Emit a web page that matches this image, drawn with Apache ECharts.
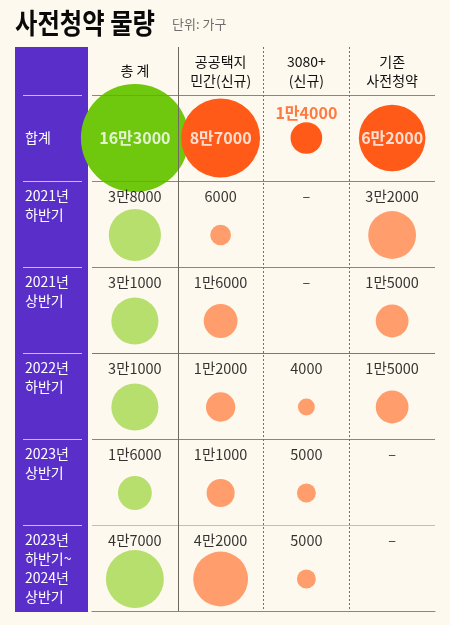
<!DOCTYPE html>
<html>
<head>
<meta charset="utf-8">
<script src="https://cdn.jsdelivr.net/npm/echarts@6/dist/echarts.min.js"></script>
<style>
  html, body { margin: 0; padding: 0; background: #fdf9ee; }
  #chart { width: 450px; height: 625px; }
</style>
</head>
<body>
<div id="chart"></div>
<script>
// 행 / 열 이름
var rowNames = ['합계', '2021년\n하반기', '2021년\n상반기', '2022년\n하반기', '2023년\n상반기', '2023년\n하반기~\n2024년\n상반기'];
var colNames = ['총 계', '공공택지\n민간(신규)', '3080+\n(신규)', '기존\n사전청약'];

// 물량 (단위: 가구), null 은 '–'
var totalVals    = [163000, 38000, 31000, 31000, 16000, 47000];
var publicVals   = [87000, 6000, 16000, 12000, 11000, 42000];
var plus3080Vals = [14000, null, null, 4000, 5000, 5000];
var existingVals = [62000, 32000, 15000, 15000, null, null];
var colVals = [totalVals, publicVals, plus3080Vals, existingVals];

var FONT = '"Noto Sans CJK KR", "Noto Sans", sans-serif';
var strongColors = ['#6fc70e', '#ff5a17', '#ff5a17', '#ff5a17'];
var lightColors  = ['#b6df6e', '#ff9d6d', '#ff9d6d', '#ff9d6d'];

var maxVal = Math.max.apply(null, totalVals);
var maxSize = 108;
function sizeOf(v) { return maxSize * Math.sqrt(v / maxVal); }

// 16만3000 식 표기
function fmt(v) {
  var man = Math.floor(v / 10000), rest = v % 10000;
  if (!man) return String(rest);
  return man + '만' + (rest ? rest : '');
}

var circleData = [];
var labelData = [];
colVals.forEach(function (vals, c) {
  vals.forEach(function (v, r) {
    if (v != null) {
      circleData.push({
        value: [c, r, v],
        symbolOffset: r === 0 ? [0, 0] : [0, 11],
        itemStyle: { color: r === 0 ? strongColors[c] : lightColors[c], opacity: 1 }
      });
    }
    var lab;
    if (r === 0 && sizeOf(v) > 40) {
      lab = { color: '#fff', fontSize: 16, fontWeight: 'bold', offset: [0, 0] };
    } else if (r === 0) {
      lab = { color: strongColors[c], fontSize: 16, fontWeight: 'bold', offset: [0, -25] };
    } else {
      lab = { color: '#000', fontSize: 14.5, fontWeight: 'normal', offset: [0, -28] };
    }
    labelData.push({ value: [c, r], text: v == null ? '–' : fmt(v), label: lab });
  });
});

var chart = echarts.init(document.getElementById('chart'));
var option = {
  backgroundColor: '#fdf9ee',
  textStyle: { fontFamily: FONT },
  animation: false,
  graphic: [
    { type: 'rect', z: 0, shape: { x: 15, y: 47, width: 73, height: 565 }, style: { fill: '#5a2fc9' } },
    { type: 'text', x: 15, y: 23, scaleX: 0.87,
      style: { text: '사전청약 물량', font: 'bold 28px ' + FONT, fill: '#0a0a0a', verticalAlign: 'middle' } },
    { type: 'text', x: 172, y: 24,
      style: { text: '단위: 가구', font: '13px ' + FONT, fill: '#6e6e6e', verticalAlign: 'middle' } }
  ],
  grid: [
    { left: 92, right: 15, top: 95, bottom: 14 },   // 본문
    { left: 92, right: 15, top: 47, bottom: 14 },   // 헤더 + 세로선
    { left: 23, width: 59, top: 95, bottom: 14 }    // 보라색 행 이름
  ],
  xAxis: [
    { gridIndex: 0, type: 'category', data: colNames, show: false },
    {
      gridIndex: 1, type: 'category', data: colNames, position: 'top', z: 5,
      axisLine: { show: true, lineStyle: { color: '#8d867c', width: 1 } },
      axisTick: { show: false },
      axisLabel: { inside: true, margin: 24, verticalAlign: 'middle', fontSize: 14, lineHeight: 19, color: '#111', fontFamily: FONT },
      splitLine: { show: true, lineStyle: { width: 1, color: ['rgba(0,0,0,0)', '#6f685f', 'rgba(0,0,0,0)', 'rgba(0,0,0,0)', 'rgba(0,0,0,0)'] } }
    },
    {
      gridIndex: 1, type: 'category', data: colNames, position: 'bottom', z: 5,
      axisLine: { show: false }, axisTick: { show: false }, axisLabel: { show: false },
      splitLine: { show: true, lineStyle: { width: 1, type: [2, 2], color: ['rgba(0,0,0,0)', 'rgba(0,0,0,0)', '#777068', '#777068', 'rgba(0,0,0,0)'] } }
    },
    { gridIndex: 2, type: 'category', data: [''], show: false }
  ],
  yAxis: [
    {
      gridIndex: 0, type: 'category', data: rowNames, inverse: true, z: 5,
      axisLine: { show: false }, axisTick: { show: false }, axisLabel: { show: false },
      splitLine: { show: true, lineStyle: { width: 1, color: ['#8d867c', '#8d867c', '#8d867c', '#82776b', '#8d867c', '#cbbcae', '#cbbcae'] } }
    },
    { gridIndex: 1, type: 'value', min: 0, max: 1, show: false },
    {
      gridIndex: 2, type: 'category', data: rowNames, inverse: true, z: 3,
      axisLine: { show: false }, axisTick: { show: false },
      axisLabel: {
        inside: true, margin: 2, align: 'left', verticalAlign: 'middle',
        color: '#fff', fontSize: 14, lineHeight: 19, fontFamily: FONT,
        formatter: function (name, i) {
          if (i === 0) return name;
          var lines = name.split('\n');
          while (lines.length < 4) lines.push(' ');
          return lines.join('\n');
        }
      },
      splitLine: { show: true, lineStyle: { width: 1, color: ['#cbb9f5', '#cbb9f5', '#cbb9f5', '#cbb9f5', '#cbb9f5', '#cbb9f5', 'rgba(0,0,0,0)'] } }
    }
  ],
  series: [
    {
      name: '원', type: 'scatter', xAxisIndex: 0, yAxisIndex: 0, z: 2, silent: true,
      symbolSize: function (val) { return sizeOf(val[2]); },
      data: circleData
    },
    {
      name: '라벨', type: 'scatter', xAxisIndex: 0, yAxisIndex: 0, z: 6, silent: true,
      symbolSize: 0,
      label: {
        show: true, position: 'inside', fontFamily: FONT,
        formatter: function (p) { return p.data.text; }
      },
      data: labelData
    }
  ]
};
chart.setOption(option);
</script>
</body>
</html>
